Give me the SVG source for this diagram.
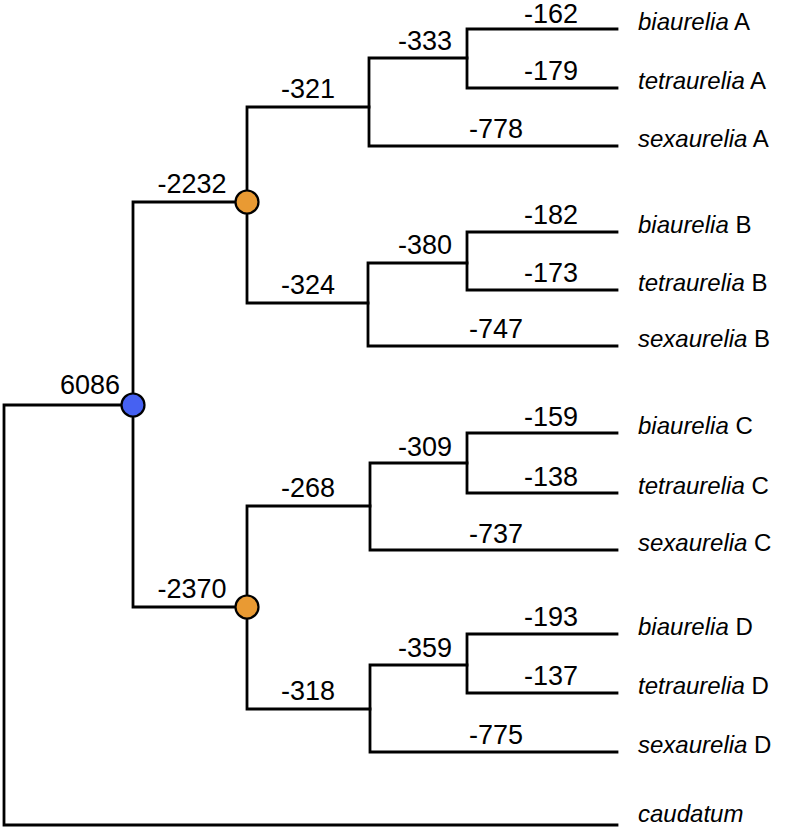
<svg xmlns="http://www.w3.org/2000/svg" width="793" height="829" viewBox="0 0 793 829">
<style>
.br{fill:none;stroke:#000;stroke-width:2.8;stroke-linecap:square;stroke-linejoin:miter}
.num{font-family:"Liberation Sans",Arial,sans-serif;font-size:27px;fill:#000;text-anchor:middle}
.leaf{font-family:"Liberation Sans",Arial,sans-serif;font-size:24px;fill:#000}
.it{font-style:italic}
.node{stroke:#000;stroke-width:2.2}
.orange{fill:#E99A33}
.blue{fill:#4661F2}
</style>
<rect width="793" height="829" fill="#fff"/>
<g id="connectors">
  <path class="br" d="M617,825 H4 V405 H133"/>
  <path class="br" d="M247,202 H133 V607 H247"/>
  <path class="br" d="M369,107 H247 V303 H368"/>
  <path class="br" d="M467,58 H369 V146 H617"/>
  <path class="br" d="M617,29 H467 V88 H617"/>
  <path class="br" d="M467,263 H368 V346 H617"/>
  <path class="br" d="M617,232 H467 V290 H617"/>
  <path class="br" d="M370,506 H247 V709 H370"/>
  <path class="br" d="M467,463 H370 V550 H617"/>
  <path class="br" d="M617,433 H467 V493 H617"/>
  <path class="br" d="M467,665 H370 V752 H617"/>
  <path class="br" d="M617,634 H467 V693 H617"/>
</g>
<g id="branch-labels">
  <text class="num" x="90" y="394">6086</text>
  <text class="num" x="192" y="193">-2232</text>
  <text class="num" x="192" y="598">-2370</text>
  <text class="num" x="308" y="98">-321</text>
  <text class="num" x="308" y="294">-324</text>
  <text class="num" x="308" y="497">-268</text>
  <text class="num" x="308" y="700">-318</text>
  <text class="num" x="425" y="50">-333</text>
  <text class="num" x="425" y="254">-380</text>
  <text class="num" x="425" y="456">-309</text>
  <text class="num" x="425" y="657">-359</text>
  <text class="num" x="551" y="23">-162</text>
  <text class="num" x="551" y="80">-179</text>
  <text class="num" x="496" y="138">-778</text>
  <text class="num" x="551" y="224">-182</text>
  <text class="num" x="551" y="282">-173</text>
  <text class="num" x="496" y="338">-747</text>
  <text class="num" x="551" y="426">-159</text>
  <text class="num" x="551" y="486">-138</text>
  <text class="num" x="496" y="543">-737</text>
  <text class="num" x="551" y="626">-193</text>
  <text class="num" x="551" y="685">-137</text>
  <text class="num" x="496" y="744">-775</text>
</g>
<g id="node-root"><circle class="node blue" cx="133" cy="405" r="11.5"/></g>
<g id="node-AB"><circle class="node orange" cx="247" cy="202" r="11.5"/></g>
<g id="node-CD"><circle class="node orange" cx="247" cy="607" r="11.5"/></g>
<g id="leaf-biaurelia-A"><text class="leaf" x="638" y="30"><tspan class="it">biaurelia</tspan> A</text></g>
<g id="leaf-tetraurelia-A"><text class="leaf" x="638" y="89"><tspan class="it">tetraurelia</tspan> A</text></g>
<g id="leaf-sexaurelia-A"><text class="leaf" x="638" y="147"><tspan class="it">sexaurelia</tspan> A</text></g>
<g id="leaf-biaurelia-B"><text class="leaf" x="638" y="233"><tspan class="it">biaurelia</tspan> B</text></g>
<g id="leaf-tetraurelia-B"><text class="leaf" x="638" y="291"><tspan class="it">tetraurelia</tspan> B</text></g>
<g id="leaf-sexaurelia-B"><text class="leaf" x="638" y="347"><tspan class="it">sexaurelia</tspan> B</text></g>
<g id="leaf-biaurelia-C"><text class="leaf" x="638" y="434"><tspan class="it">biaurelia</tspan> C</text></g>
<g id="leaf-tetraurelia-C"><text class="leaf" x="638" y="494"><tspan class="it">tetraurelia</tspan> C</text></g>
<g id="leaf-sexaurelia-C"><text class="leaf" x="638" y="551"><tspan class="it">sexaurelia</tspan> C</text></g>
<g id="leaf-biaurelia-D"><text class="leaf" x="638" y="635"><tspan class="it">biaurelia</tspan> D</text></g>
<g id="leaf-tetraurelia-D"><text class="leaf" x="638" y="694"><tspan class="it">tetraurelia</tspan> D</text></g>
<g id="leaf-sexaurelia-D"><text class="leaf" x="638" y="753"><tspan class="it">sexaurelia</tspan> D</text></g>
<g id="leaf-caudatum"><text class="leaf it" x="638" y="822">caudatum</text></g>
</svg>
